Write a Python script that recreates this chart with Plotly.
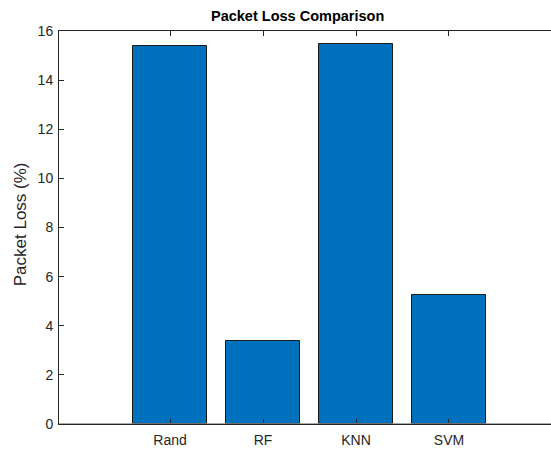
import plotly.graph_objects as go

categories = ["Rand", "RF", "KNN", "SVM"]
packet_loss = [15.37, 3.39, 15.47, 5.24]
y_ticks = [0, 2, 4, 6, 8, 10, 12, 14, 16]

positions = list(range(len(categories)))

fig = go.Figure()
fig.add_trace(go.Bar(
    x=positions,
    y=packet_loss,
    width=0.8,
    marker=dict(color="#0072BD", line=dict(color="#1a1a1a", width=1)),
))

W, H = 551, 451
L, R, T, B = 59, 0, 30.5, 27
pw = W - L - R
ph = H - T - B

fig.update_layout(
    width=W, height=H,
    margin=dict(l=L, r=R, t=T, b=B, pad=0),
    paper_bgcolor="white", plot_bgcolor="white",
    showlegend=False,
    font=dict(family="Liberation Sans, Arial, sans-serif", size=14, color="#262626"),
    bargap=0,
    xaxis=dict(
        range=[-1.194, 4.097],
        tickvals=positions, ticktext=categories,
        ticks="inside", ticklen=5, tickcolor="#262626",
        showline=True, linecolor="#262626", linewidth=1, mirror="ticks",
        showgrid=False, zeroline=False,
        ticklabelstandoff=3,
        tickfont=dict(size=14, color="#262626"),
    ),
    yaxis=dict(
        range=[0, 16],
        tickvals=y_ticks,
        ticks="inside", ticklen=5, tickcolor="#262626",
        showline=True, linecolor="#262626", linewidth=1, mirror=False,
        showgrid=False, zeroline=False,
        ticklabelstandoff=2,
        tickfont=dict(size=14, color="#262626"),
    ),
    shapes=[dict(
        type="line", xref="paper", yref="y", x0=0, x1=1, y0=0, y1=0,
        line=dict(color="#8c8c8c", width=1.5), layer="above",
    )],
    annotations=[
        dict(text="<b>Packet Loss Comparison</b>", xref="paper", yref="paper",
             x=(297 - L) / pw, y=(H - B - 15) / ph, xanchor="center", yanchor="middle",
             showarrow=False, font=dict(size=14.5, color="black")),
        dict(text="Packet Loss (%)", xref="paper", yref="paper",
             x=(20 - L) / pw, y=(H - B - 224) / ph, xanchor="center", yanchor="middle",
             textangle=-90, showarrow=False, font=dict(size=17, color="#262626")),
    ],
)

fig.write_html(
    "out.html",
    config={"displayModeBar": False},
    post_script="document.body.style.margin='0';document.body.style.overflow='hidden';",
)
